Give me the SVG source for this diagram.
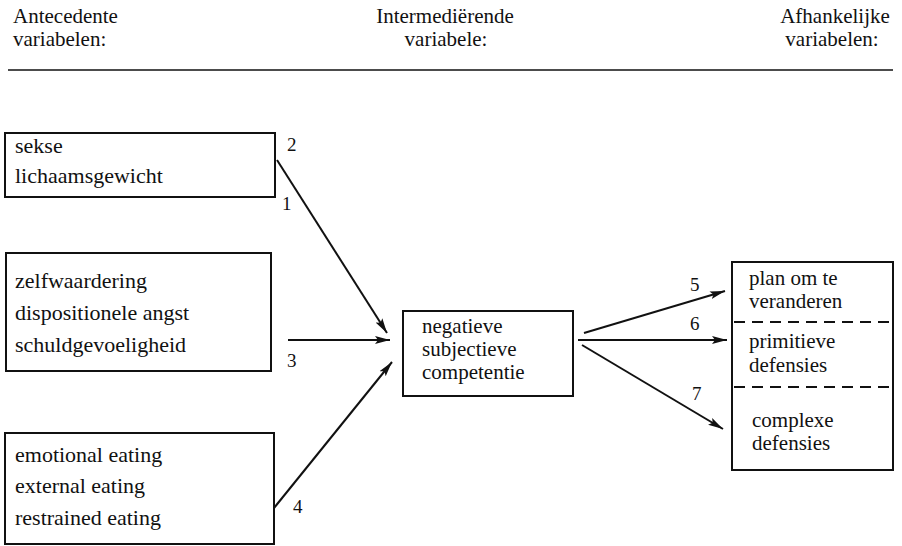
<svg xmlns="http://www.w3.org/2000/svg" width="902" height="546" viewBox="0 0 902 546" font-family="'Liberation Serif', 'Times New Roman', Times, 'DejaVu Serif', serif">
<style>
text{font-family:"Liberation Serif","Times New Roman",Times,"DejaVu Serif",serif;font-size:22px;fill:#111}
.hd{font-size:21px}
.tt{font-size:21px}
.lbl{font-size:19px}
.box{fill:none;stroke:#111;stroke-width:2}
.arr{fill:none;stroke:#111;stroke-width:2;marker-end:url(#ah)}
.dash{stroke:#111;stroke-width:2;stroke-dasharray:11 7}
.mid{text-anchor:middle}
</style>
<defs>
<marker id="ah" markerUnits="userSpaceOnUse" markerWidth="16" markerHeight="10" refX="15" refY="5" orient="auto">
<path d="M0,1 L15,5 L0,9 L3,5 Z" fill="#111"/>
</marker>
</defs>
<g id="header">
<text class="hd" x="13" y="23">Antecedente</text>
<text class="hd" x="13" y="46">variabelen:</text>
<text class="hd mid" x="445" y="23">Intermediërende</text>
<text class="hd mid" x="446" y="46">variabele:</text>
<text class="hd mid" x="835" y="23">Afhankelijke</text>
<text class="hd mid" x="832" y="46">variabelen:</text>
<line x1="8" y1="70" x2="893" y2="70" stroke="#111" stroke-width="1.6"/>
</g>
<g id="node-antecedent1">
<rect class="box" x="5" y="133" width="270" height="64"/>
<text x="15" y="153">sekse</text>
<text x="15" y="183">lichaamsgewicht</text>
</g>
<g id="node-antecedent2">
<rect class="box" x="6" y="253" width="265" height="118"/>
<text x="15" y="288">zelfwaardering</text>
<text x="15" y="320">dispositionele angst</text>
<text x="15" y="352">schuldgevoeligheid</text>
</g>
<g id="node-antecedent3">
<rect class="box" x="5" y="433" width="269" height="111"/>
<text x="15" y="462">emotional eating</text>
<text x="15" y="493">external eating</text>
<text x="15" y="525">restrained eating</text>
</g>
<g id="node-intermediate">
<rect class="box" x="403" y="311" width="170" height="85"/>
<text class="tt" x="422" y="333">negatieve</text>
<text class="tt" x="422" y="356">subjectieve</text>
<text class="tt" x="422" y="379">competentie</text>
</g>
<g id="node-dependent">
<rect class="box" x="732" y="262" width="161" height="208"/>
<line class="dash" x1="734" y1="322" x2="893" y2="322"/>
<line class="dash" x1="734" y1="387" x2="893" y2="387"/>
<text class="tt" x="749" y="285">plan om te</text>
<text class="tt" x="749" y="308">veranderen</text>
<text class="tt" x="749" y="348">primitieve</text>
<text class="tt" x="749" y="372">defensies</text>
<text class="tt" x="752" y="427">complexe</text>
<text class="tt" x="752" y="450">defensies</text>
</g>
<g id="connectors">
<line class="arr" x1="277" y1="160" x2="387" y2="333"/>
<line class="arr" x1="288" y1="340" x2="390" y2="340"/>
<line class="arr" x1="274" y1="508" x2="392" y2="362"/>
<line class="arr" x1="584" y1="333" x2="725" y2="291"/>
<line class="arr" x1="578" y1="340" x2="727" y2="340"/>
<line class="arr" x1="582" y1="345" x2="723" y2="429"/>
<text class="lbl" x="287" y="151">2</text>
<text class="lbl" x="282" y="210">1</text>
<text class="lbl" x="287" y="367">3</text>
<text class="lbl" x="293" y="513">4</text>
<text class="lbl" x="690" y="291">5</text>
<text class="lbl" x="690" y="330">6</text>
<text class="lbl" x="692" y="400">7</text>
</g>
</svg>
